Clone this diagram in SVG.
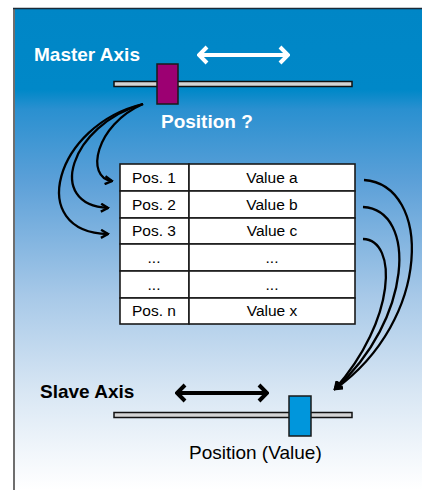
<svg xmlns="http://www.w3.org/2000/svg" width="422" height="490" viewBox="0 0 422 490">
<defs>
<linearGradient id="bg" x1="0" y1="8" x2="0" y2="490" gradientUnits="userSpaceOnUse">
<stop offset="0" stop-color="#0086c6"/>
<stop offset="0.17" stop-color="#0088c8"/>
<stop offset="0.21" stop-color="#2a90d0"/>
<stop offset="0.36" stop-color="#5ca0d8"/>
<stop offset="0.6" stop-color="#a8c9e8"/>
<stop offset="0.8" stop-color="#d9e7f4"/>
<stop offset="0.92" stop-color="#f1f6fb"/>
<stop offset="1" stop-color="#ffffff"/>
</linearGradient>
<marker id="ah" viewBox="0 0 10 10" refX="8.5" refY="5" markerWidth="10" markerHeight="10" markerUnits="userSpaceOnUse" orient="auto">
<path d="M1.5,1 L8.5,5 L1.5,9" fill="none" stroke="#000" stroke-width="2.4"/>
</marker>
<marker id="wh" viewBox="0 0 12 20" refX="10" refY="10" markerWidth="12" markerHeight="20" markerUnits="userSpaceOnUse" orient="auto-start-reverse">
<path d="M2,2 L10,10 L2,18" fill="none" stroke="#fff" stroke-width="4"/>
</marker>
<marker id="bh" viewBox="0 0 12 20" refX="10" refY="10" markerWidth="12" markerHeight="20" markerUnits="userSpaceOnUse" orient="auto-start-reverse">
<path d="M2,2 L10,10 L2,18" fill="none" stroke="#000" stroke-width="4"/>
</marker>
</defs>
<style>
.lbl{font-family:"Liberation Sans",Arial,sans-serif;font-size:19px}
.b{font-weight:bold}
.cell{fill:#fff;stroke:#1a1a1a;stroke-width:1.6}
.ct{font-family:"Liberation Sans",Arial,sans-serif;font-size:15.5px;fill:#000;text-anchor:middle}
.bar{fill:#d4d4d4;stroke:#111;stroke-width:1.5}
.conn{fill:none;stroke:#000;stroke-width:2.3;marker-end:url(#ah)}
</style>
<rect x="14" y="8" width="408" height="482" fill="url(#bg)"/>
<line x1="14" y1="8" x2="14" y2="490" stroke="#6e6e6e" stroke-width="2"/>
<line x1="13" y1="8.5" x2="422" y2="8.5" stroke="#1a2a38" stroke-width="1.5"/>

<g id="master">
<text class="lbl b" x="34" y="61" fill="#fff">Master Axis</text>
<line x1="199" y1="55" x2="288" y2="55" stroke="#fff" stroke-width="4" marker-start="url(#wh)" marker-end="url(#wh)"/>
<rect class="bar" x="114" y="81.5" width="238" height="5"/>
<rect x="157" y="64" width="21" height="40" fill="#9c0072" stroke="#1a1a1a" stroke-width="1.5"/>
<text class="lbl b" x="161" y="128" fill="#fff">Position ?</text>
</g>

<g id="table">
<rect class="cell" x="120" y="164" width="69" height="27"/>
<rect class="cell" x="189" y="164" width="166" height="27"/>
<rect class="cell" x="120" y="191" width="69" height="27"/>
<rect class="cell" x="189" y="191" width="166" height="27"/>
<rect class="cell" x="120" y="218" width="69" height="26"/>
<rect class="cell" x="189" y="218" width="166" height="26"/>
<rect class="cell" x="120" y="244" width="69" height="27"/>
<rect class="cell" x="189" y="244" width="166" height="27"/>
<rect class="cell" x="120" y="271" width="69" height="27"/>
<rect class="cell" x="189" y="271" width="166" height="27"/>
<rect class="cell" x="120" y="298" width="69" height="26"/>
<rect class="cell" x="189" y="298" width="166" height="26"/>
<text class="ct" x="154" y="183">Pos. 1</text>
<text class="ct" x="272" y="183">Value a</text>
<text class="ct" x="154" y="210">Pos. 2</text>
<text class="ct" x="272" y="210">Value b</text>
<text class="ct" x="154" y="236">Pos. 3</text>
<text class="ct" x="272" y="236">Value c</text>
<text class="ct" x="154" y="263">...</text>
<text class="ct" x="272" y="263">...</text>
<text class="ct" x="154" y="290">...</text>
<text class="ct" x="272" y="290">...</text>
<text class="ct" x="154" y="316">Pos. n</text>
<text class="ct" x="272" y="316">Value x</text>
</g>

<g id="slave">
<text class="lbl b" x="40" y="398" fill="#000">Slave Axis</text>
<line x1="177" y1="393" x2="267" y2="393" stroke="#000" stroke-width="4" marker-start="url(#bh)" marker-end="url(#bh)"/>
<rect class="bar" x="114" y="412.5" width="238" height="5"/>
<rect x="289" y="396" width="22" height="40" fill="#0096dc" stroke="#1a1a1a" stroke-width="1.5"/>
<text class="lbl" x="189" y="459" fill="#000">Position (Value)</text>
</g>

<g id="connectors">
<path class="conn" d="M143,104 C95,125 85,178 112,181"/>
<path class="conn" d="M143,104 C70,125 45,205 108,208"/>
<path class="conn" d="M143,104 C55,125 25,232 108,234"/>
<path class="conn" d="M364,180 C432,185 432,320 335,389"/>
<path class="conn" d="M363,207 C418,210 412,320 335,389"/>
<path class="conn" d="M363,239 C398,240 396,320 335,389"/>
</g>
</svg>
